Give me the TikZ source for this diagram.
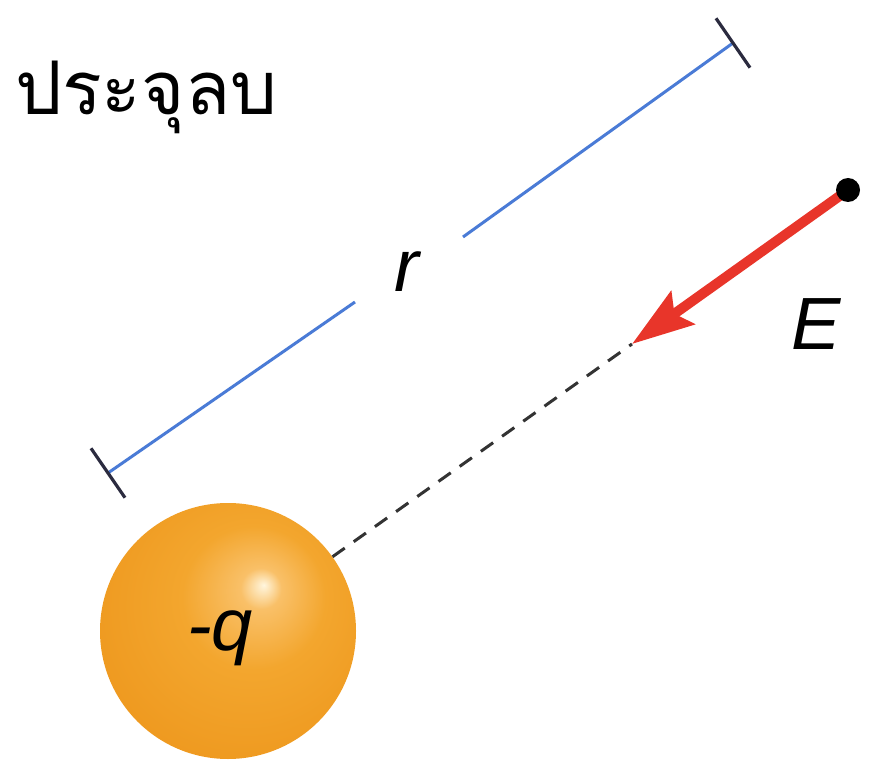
\documentclass[tikz,border=0pt]{standalone}
\usepackage{fontspec}
\setmainfont{Liberation Sans}
\newfontfamily\thaifont[Script=Thai]{Loma}
\usetikzlibrary{calc,arrows.meta}
\definecolor{blueline}{HTML}{4A7BD6}
\definecolor{tickcol}{HTML}{2B2B3F}
\definecolor{arrowred}{HTML}{E8352A}
\definecolor{orgA}{HTML}{FFF6DE}
\definecolor{orgB}{HTML}{F9C068}
\definecolor{orgC}{HTML}{F3A62E}
\definecolor{orgD}{HTML}{EE981E}
\pgfdeclareradialshading{sphereshade}{\pgfpoint{7bp}{9bp}}{%
  color(0bp)=(orgA); color(4bp)=(orgB); color(14bp)=(orgC); color(32bp)=(orgD); color(50bp)=(orgD)}
\tikzset{
  lbl/.style={font=\fontsize{74}{80}\selectfont\itshape, inner sep=0pt},
  rline/.style={blueline, line width=3pt},
  tickline/.style={tickcol, line width=3.2pt},
  dotnode/.style={circle, fill=black, minimum size=24pt, inner sep=0pt},
}
\begin{document}
\begin{tikzpicture}[x=1pt,y=-1pt]
\useasboundingbox (0,0) rectangle (876,762);
% title
\node[anchor=west, inner sep=0pt, font=\thaifont\fontsize{74}{80}\selectfont] (title) at (15,97) {ประจุลบ};
% distance line
\coordinate (ra) at (108,473);
\coordinate (rb) at (733,43);
\coordinate (ga) at (355,302);
\coordinate (gb) at (463,237);
\draw[rline] (ra) -- (ga);
\draw[rline] (gb) -- (rb);
\draw[tickline] ($(ra)!30pt!90:(rb)$) -- ($(ra)!30pt!-90:(rb)$);
\draw[tickline] ($(rb)!30pt!90:(ra)$) -- ($(rb)!30pt!-90:(ra)$);
\node[lbl] (r) at (407,272) {r};
% charge
\shade[shading=sphereshade] (228,631) circle (128pt);
\node[circle, minimum size=256pt, inner sep=0pt] (charge) at (228,631) {};
\node[lbl] (q) at (220,638) {-q};
% field point and arrow
\coordinate (ptc) at (848,190);
\coordinate (tip) at (632,344);
\draw[black!80, line width=3pt, dash pattern=on 15pt off 11pt] (charge) -- (tip);
\draw[arrowred, line width=10pt, -{Stealth[length=62pt,width=40pt,inset=10pt]}] (ptc) -- (tip);
\node[dotnode] (pt) at (ptc) {};
\node[lbl] (E) at (816,324) {E};
\end{tikzpicture}
\end{document}
